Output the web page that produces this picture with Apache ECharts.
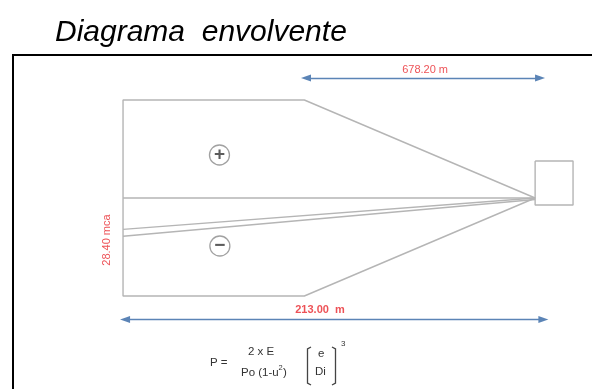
<!DOCTYPE html>
<html>
<head>
<meta charset="utf-8">
<script src="https://cdn.jsdelivr.net/npm/echarts@6/dist/echarts.min.js"></script>
<style>
html,body{margin:0;padding:0;background:#fff;}
#chart{width:592px;height:389px;}
</style>
</head>
<body>
<div id="chart"></div>
<script>
// ---- diagram data (schematic units: x = fraction of pipeline length, y = relative head) ----
const envelopeTop = [[0, 0], [0, 1], [0.44, 1], [1, 0]];
const envelopeBottom = [[0, 0], [0, -1], [0.44, -1], [1, 0]];
const staticLine = [[0, 0], [1, 0]];
const gradientLine1 = [[0, -0.32], [1, 0]];
const gradientLine2 = [[0, -0.39], [1, -0.015]];
const reservoirBox = [[1, 0.378], [1.092, 0.378], [1.092, -0.071], [1, -0.071], [1, 0.378]];
const signPoints = [[0.234, 0.439, '+'], [0.235, -0.49, '−']];
const arrowTop = [[0.444, 1.224], [1.012, 1.224]];
const arrowBottom = [[0.005, -1.24], [1.02, -1.24]];
const dimLabels = [
  [0.733, 1.31, '678.20 m', 'normal'],
  [0.478, -1.14, '213.00  m', 'bold']
];
const headLabel = [[-0.039, -0.429, '28.40 mca']];
const titleText = 'Diagrama  envolvente';

const chart = echarts.init(document.getElementById('chart'), null, {renderer: 'canvas'});
const gray = '#b5b5b5';
const blue = '#5b84b6';
const red = '#e8262c';
const font = '"Liberation Sans", Arial, sans-serif';

function lineSeries(data) {
  return {
    type: 'line', data: data, symbol: 'none', clip: false, silent: true,
    lineStyle: {color: gray, width: 1.4}, animation: false
  };
}
function arrowSeries(pts) {
  return {
    type: 'line', data: [], symbol: 'none', silent: true, animation: false,
    markLine: {
      silent: true, animation: false,
      symbol: ['triangle', 'triangle'], symbolSize: [7, 10],
      lineStyle: {color: blue, width: 1.3, type: 'solid'},
      label: {show: false},
      data: [[{coord: pts[0]}, {coord: pts[1]}]]
    }
  };
}

chart.setOption({
  animation: false,
  title: {
    text: titleText, left: 50, top: 13,
    textStyle: {fontFamily: font, fontSize: 30, fontStyle: 'italic', fontWeight: 'normal', color: '#000'}
  },
  grid: {left: 13, right: 0, top: 56, bottom: 0},
  xAxis: {type: 'value', min: -0.267, max: 1.138, show: false},
  yAxis: {type: 'value', min: -1.949, max: 1.449, show: false},
  graphic: [
    {type: 'rect', shape: {x: 13, y: 55, width: 620, height: 400},
     style: {fill: null, stroke: '#000', lineWidth: 2}, silent: true},
    // formula
    {type: 'text', left: 210, top: 357, style: {text: 'P =', font: '11.5px ' + font, fill: '#333'}},
    {type: 'text', left: 248, top: 346, style: {text: '2 x E', font: '11.5px ' + font, fill: '#333'}},
    {type: 'text', left: 241, top: 367, style: {text: 'Po (1-u', font: '11.5px ' + font, fill: '#333'}},
    {type: 'text', left: 278.5, top: 364, style: {text: '2', font: '7.5px ' + font, fill: '#333'}},
    {type: 'text', left: 283, top: 367, style: {text: ')', font: '11.5px ' + font, fill: '#333'}},
    {type: 'polyline', shape: {points: [[311, 347], [307.5, 349], [307.5, 383], [311, 385]]},
     style: {stroke: '#444', lineWidth: 1.3, fill: null}},
    {type: 'polyline', shape: {points: [[332, 347], [335.5, 349], [335.5, 383], [332, 385]]},
     style: {stroke: '#444', lineWidth: 1.3, fill: null}},
    {type: 'text', left: 318, top: 348, style: {text: 'e', font: '11.5px ' + font, fill: '#333'}},
    {type: 'text', left: 315, top: 366, style: {text: 'Di', font: '11.5px ' + font, fill: '#333'}},
    {type: 'text', left: 341, top: 340, style: {text: '3', font: '8px ' + font, fill: '#333'}}
  ],
  series: [
    lineSeries(envelopeTop),
    lineSeries(envelopeBottom),
    lineSeries(staticLine),
    lineSeries(gradientLine1),
    lineSeries(gradientLine2),
    lineSeries(reservoirBox),
    arrowSeries(arrowTop),
    arrowSeries(arrowBottom),
    {
      type: 'scatter', data: signPoints.map(p => ({value: [p[0], p[1]], name: p[2]})),
      symbol: 'circle', symbolSize: 20, silent: true, animation: false,
      itemStyle: {color: '#fff', borderColor: '#8a8a8a', borderWidth: 1.3},
      label: {show: true, position: 'inside', formatter: p => p.name,
              fontFamily: font, fontSize: 19, fontWeight: 'bold', color: '#333'}
    },
    {
      type: 'scatter', data: dimLabels.map(p => ({value: [p[0], p[1]], name: p[2],
        label: {fontWeight: p[3]}})),
      symbolSize: 0, silent: true, animation: false,
      label: {show: true, position: 'inside', formatter: p => p.name,
              fontFamily: font, fontSize: 11, color: red}
    },
    {
      type: 'scatter', data: headLabel.map(p => ({value: [p[0], p[1]], name: p[2]})),
      symbolSize: 0, silent: true, animation: false,
      label: {show: true, position: 'inside', rotate: 90, formatter: p => p.name,
              fontFamily: font, fontSize: 11, color: red}
    }
  ]
});
</script>
</body>
</html>
